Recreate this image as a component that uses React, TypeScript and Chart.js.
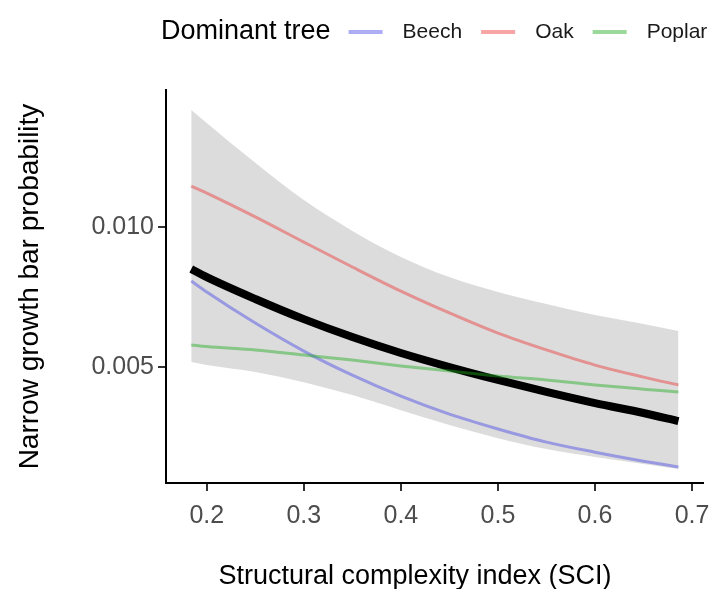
import { useEffect, useRef } from 'react';
import { Chart, registerables } from 'chart.js';

Chart.register(...registerables);

// ---- data ----
const sci = [0.184, 0.2, 0.25, 0.3, 0.35, 0.4, 0.45, 0.5, 0.55, 0.6, 0.65, 0.686];
const overall = [0.0085, 0.00821, 0.00743, 0.00671, 0.00607, 0.0055, 0.005, 0.00454, 0.00411, 0.00371, 0.00336, 0.00307];
const ciUpper = [0.01418, 0.01371, 0.01229, 0.01096, 0.00986, 0.00893, 0.00821, 0.00768, 0.00725, 0.00686, 0.00654, 0.00629];
const ciLower = [0.00518, 0.00507, 0.00482, 0.00446, 0.004, 0.00346, 0.00293, 0.00246, 0.00207, 0.00179, 0.00154, 0.00136];
const beech = [0.00807, 0.00768, 0.00657, 0.00557, 0.00471, 0.00396, 0.00332, 0.00279, 0.00232, 0.00196, 0.00164, 0.00143];
const oak = [0.01146, 0.01121, 0.01036, 0.00946, 0.00857, 0.00771, 0.00693, 0.00621, 0.00561, 0.00507, 0.00464, 0.00436];
const poplar = [0.00579, 0.00573, 0.00561, 0.00543, 0.00525, 0.00504, 0.00486, 0.00468, 0.00454, 0.00436, 0.00421, 0.00411];

const xTicks = [0.2, 0.3, 0.4, 0.5, 0.6, 0.7];
const xTickLabels = ['0.2', '0.3', '0.4', '0.5', '0.6', '0.7'];
const yTicks = [0.005, 0.01];
const yTickLabels = ['0.005', '0.010'];

const legendTitle = 'Dominant tree';
const treeNames = ['Beech', 'Oak', 'Poplar'];
const xTitle = 'Structural complexity index (SCI)';
const yTitle = 'Narrow growth bar probability';

const FONT = '"Liberation Sans", Arial, Helvetica, sans-serif';
const treeColors = ['rgba(60, 60, 230, 0.42)', 'rgba(235, 40, 40, 0.42)', 'rgba(30, 170, 30, 0.45)'];

export default function App() {
  const ref = useRef<HTMLCanvasElement>(null);

  useEffect(() => {
    document.body.style.margin = '0';
    const canvas = ref.current;
    if (!canvas) return;
    const pts = (ys: number[]) => sci.map((x, i) => ({ x, y: ys[i] }));

    const textPlugin = {
      id: 'ggText',
      afterDraw(chart: any) {
        const ctx = chart.ctx as CanvasRenderingContext2D;
        ctx.save();
        ctx.textBaseline = 'middle';
        ctx.textAlign = 'left';
        // legend
        const cy = 32;
        let x = 161;
        ctx.font = `27px ${FONT}`;
        ctx.fillStyle = '#000';
        ctx.fillText(legendTitle, x, cy);
        x += ctx.measureText(legendTitle).width + 18;
        treeNames.forEach((name, i) => {
          ctx.strokeStyle = treeColors[i];
          ctx.lineWidth = 4;
          ctx.beginPath();
          ctx.moveTo(x, cy);
          ctx.lineTo(x + 34, cy);
          ctx.stroke();
          x += 34 + 20;
          ctx.font = `21px ${FONT}`;
          ctx.fillStyle = '#1a1a1a';
          ctx.fillText(name, x, cy);
          x += ctx.measureText(name).width + 19;
        });
        // x axis title
        ctx.font = `27px ${FONT}`;
        ctx.fillStyle = '#000';
        ctx.textAlign = 'center';
        ctx.fillText(xTitle, 415, 577);
        ctx.restore();
      },
    };

    const lineBase = { pointRadius: 0, pointHoverRadius: 0, fill: false, borderCapStyle: 'butt' as const };

    const chart = new Chart(canvas, {
      type: 'line',
      data: {
        datasets: [
          { ...lineBase, label: 'CI lower', data: pts(ciLower), borderWidth: 0, borderColor: 'rgba(0,0,0,0)', order: 6 },
          { ...lineBase, label: 'CI upper', data: pts(ciUpper), borderWidth: 0, borderColor: 'rgba(0,0,0,0)', fill: '-1', backgroundColor: '#dcdcdc', order: 5 },
          { ...lineBase, label: 'Overall', data: pts(overall), borderColor: '#000', borderWidth: 8, order: 4 },
          { ...lineBase, label: treeNames[0], data: pts(beech), borderColor: treeColors[0], borderWidth: 3, order: 3 },
          { ...lineBase, label: treeNames[1], data: pts(oak), borderColor: treeColors[1], borderWidth: 3, order: 2 },
          { ...lineBase, label: treeNames[2], data: pts(poplar), borderColor: treeColors[2], borderWidth: 3, order: 1 },
        ],
      },
      options: {
        animation: false,
        responsive: false,
        devicePixelRatio: 1,
        layout: { padding: { top: 90, right: 9, bottom: 0, left: 0 } },
        elements: { line: { cubicInterpolationMode: 'monotone' } },
        plugins: { legend: { display: false }, tooltip: { enabled: false } },
        scales: {
          x: {
            type: 'linear',
            min: 0.158,
            max: 0.7113,
            afterBuildTicks: (s: any) => {
              s.ticks = xTicks.map((v) => ({ value: v }));
            },
            afterFit: (s: any) => {
              s.height = 106;
              s.paddingLeft = 0;
              s.paddingRight = 0;
            },
            ticks: {
              autoSkip: false,
              maxRotation: 0,
              padding: 10,
              color: '#4d4d4d',
              font: { family: FONT, size: 25 },
              callback: (_v: any, i: number) => xTickLabels[i],
            },
            grid: { drawOnChartArea: false, drawTicks: true, tickLength: 8, color: '#333', lineWidth: 2 },
            border: { display: true, color: '#000', width: 2 },
            title: { display: false },
          },
          y: {
            type: 'linear',
            min: 0.00086,
            max: 0.01489,
            afterBuildTicks: (s: any) => {
              s.ticks = yTicks.map((v) => ({ value: v }));
            },
            afterFit: (s: any) => {
              s.width = 166;
              s.paddingTop = 0;
              s.paddingBottom = 0;
            },
            ticks: {
              autoSkip: false,
              padding: 4,
              color: '#4d4d4d',
              font: { family: FONT, size: 25 },
              callback: (_v: any, i: number) => yTickLabels[i],
            },
            grid: { drawOnChartArea: false, drawTicks: true, tickLength: 8, color: '#333', lineWidth: 2 },
            border: { display: true, color: '#000', width: 2 },
            title: {
              display: true,
              text: yTitle,
              color: '#000',
              font: { family: FONT, size: 28, lineHeight: 1 },
              padding: { top: 16, bottom: 0 },
            },
          },
        },
      } as any,
      plugins: [textPlugin],
    });

    return () => chart.destroy();
  }, []);

  return (
    <div style={{ position: 'absolute', left: 0, top: 0, width: 712, height: 589, background: '#fff' }}>
      <canvas ref={ref} width={712} height={589} style={{ width: 712, height: 589, display: 'block' }} />
    </div>
  );
}
